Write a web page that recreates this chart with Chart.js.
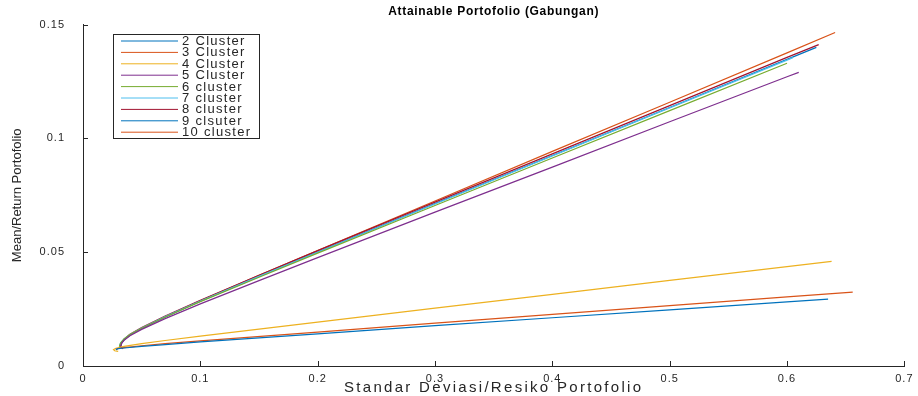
<!DOCTYPE html>
<html>
<head>
<meta charset="utf-8">
<script src="https://cdn.jsdelivr.net/npm/chart.js@4/dist/chart.umd.min.js"></script>
<style>
    html, body { margin: 0; padding: 0; background: #fff; }
    #wrap { width: 918px; height: 396px; }
</style>
</head>
<body>
<div id="wrap"><canvas id="frontierChart"></canvas></div>
<script>
// Data: standard deviation (x) and mean return (y)
const labels = ['2 Cluster', '3 Cluster', '4 Cluster', '5 Cluster', '6 cluster', '7 cluster', '8 cluster', '9 clsuter', '10 cluster'];
const colors = ['#0072BD', '#D95319', '#EDB120', '#7E2F8E', '#77AC30', '#4DBEEE', '#A2142F', '#0072BD', '#D95319'];

const sd2 = [0.028, 0.03, 0.035, 0.05, 0.07, 0.1, 0.2, 0.3, 0.4, 0.5, 0.6, 0.635];
const mu2 = [0.0072, 0.0076, 0.0079, 0.0086, 0.0094, 0.0106, 0.0141, 0.0177, 0.0212, 0.0247, 0.0282, 0.0294];

const sd3 = [0.028, 0.03, 0.035, 0.05, 0.07, 0.1, 0.2, 0.3, 0.4, 0.5, 0.6, 0.656];
const mu3 = [0.0073, 0.0077, 0.0081, 0.0089, 0.0098, 0.0110, 0.0149, 0.0188, 0.0227, 0.0265, 0.0304, 0.0325];

const sd4 = [0.03, 0.027, 0.026, 0.028, 0.035, 0.05, 0.07, 0.1, 0.2, 0.3, 0.4, 0.5, 0.6, 0.638];
const mu4 = [0.0064, 0.0067, 0.0072, 0.0078, 0.0086, 0.0098, 0.0112, 0.0131, 0.0193, 0.0254, 0.0315, 0.0376, 0.0437, 0.046];

const sd5 = [0.032, 0.033, 0.035, 0.04, 0.05, 0.07, 0.1, 0.15, 0.2, 0.3, 0.4, 0.5, 0.6, 0.61];
const mu5 = [0.0085, 0.0101, 0.0113, 0.0133, 0.0161, 0.0208, 0.0273, 0.0375, 0.0476, 0.0676, 0.0874, 0.1073, 0.1271, 0.129];

const sd6 = [0.031, 0.032, 0.035, 0.04, 0.05, 0.07, 0.1, 0.15, 0.2, 0.3, 0.4, 0.5, 0.6];
const mu6 = [0.0085, 0.0101, 0.0119, 0.0138, 0.0166, 0.0215, 0.0283, 0.0390, 0.0496, 0.0705, 0.0914, 0.1122, 0.133];

const sd7 = [0.031, 0.032, 0.035, 0.04, 0.05, 0.07, 0.1, 0.15, 0.2, 0.3, 0.4, 0.5, 0.6, 0.605];
const mu7 = [0.0085, 0.0102, 0.0119, 0.0138, 0.0167, 0.0217, 0.0285, 0.0394, 0.0500, 0.0712, 0.0923, 0.1134, 0.1344, 0.1355];

const sd8 = [0.034, 0.032, 0.033, 0.035, 0.04, 0.05, 0.07, 0.1, 0.15, 0.2, 0.3, 0.4, 0.5, 0.6, 0.627];
const mu8 = [0.0075, 0.0085, 0.0102, 0.0118, 0.0139, 0.0169, 0.0219, 0.0289, 0.0399, 0.0507, 0.0720, 0.0932, 0.1144, 0.1356, 0.1412];

const sd9 = [0.032, 0.033, 0.035, 0.04, 0.05, 0.07, 0.1, 0.15, 0.2, 0.3, 0.4, 0.5, 0.6, 0.625];
const mu9 = [0.0085, 0.0102, 0.0115, 0.0136, 0.0166, 0.0216, 0.0285, 0.0394, 0.0501, 0.0714, 0.0925, 0.1136, 0.1347, 0.140];

const sd10 = [0.031, 0.032, 0.035, 0.04, 0.05, 0.07, 0.1, 0.15, 0.2, 0.3, 0.4, 0.5, 0.6, 0.641];
const mu10 = [0.008, 0.0097, 0.0115, 0.0135, 0.0165, 0.0216, 0.0286, 0.0398, 0.0507, 0.0725, 0.0943, 0.1159, 0.1376, 0.1465];

const xTicks = [0, 0.1, 0.2, 0.3, 0.4, 0.5, 0.6, 0.7];
const yTicks = [0, 0.05, 0.1, 0.15];

const series = [[sd2, mu2], [sd3, mu3], [sd4, mu4], [sd5, mu5], [sd6, mu6], [sd7, mu7], [sd8, mu8], [sd9, mu9], [sd10, mu10]];

const AXIS = '#262626';
const FONT = '"Liberation Sans", Arial, Helvetica, sans-serif';

// the picture is a bit stretched sideways, so text gets some letter spacing
const spacing = {
    id: 'spacing',
    beforeDraw(chart) { chart.ctx.letterSpacing = '1px'; },
    afterDraw(chart) { chart.ctx.letterSpacing = '0px'; }
};

// ticks pointing inward, like matlab
const innerTicks = {
    id: 'innerTicks',
    afterDraw(chart) {
        const { ctx, scales: { x, y } } = chart;
        ctx.save();
        ctx.strokeStyle = AXIS;
        ctx.lineWidth = 1;
        ctx.beginPath();
        xTicks.forEach(v => {
            const px = Math.round(x.getPixelForValue(v)) + 0.5;
            ctx.moveTo(px, y.bottom);
            ctx.lineTo(px, y.bottom - 5);
        });
        yTicks.forEach(v => {
            const py = Math.round(y.getPixelForValue(v)) + 0.5;
            ctx.moveTo(x.left, py);
            ctx.lineTo(x.left + 5, py);
        });
        ctx.stroke();
        ctx.restore();
    }
};

// titles + boxed legend in the upper-left corner
const matlabLegend = {
    id: 'matlabLegend',
    afterDraw(chart) {
        const { ctx, chartArea } = chart;
        const cx = (chartArea.left + chartArea.right) / 2;
        ctx.save();
        ctx.textAlign = 'center';
        ctx.textBaseline = 'middle';

        ctx.fillStyle = '#000';
        ctx.font = 'bold 12px ' + FONT;
        ctx.letterSpacing = '0.7px';
        ctx.fillText('Attainable Portofolio (Gabungan)', cx, 12);

        ctx.fillStyle = AXIS;
        ctx.font = '15px ' + FONT;
        ctx.letterSpacing = '2.3px';
        ctx.fillText('Standar Deviasi/Resiko Portofolio', cx, 388);

        ctx.save();
        ctx.translate(17, (chartArea.top + chartArea.bottom) / 2);
        ctx.rotate(-Math.PI / 2);
        ctx.font = '13px ' + FONT;
        ctx.letterSpacing = '0px';
        ctx.fillText('Mean/Return Portofolio', 0, 0);
        ctx.restore();

        const bx = 113.5, by = 34.5, bw = 146, bh = 104;
        ctx.fillStyle = '#fff';
        ctx.fillRect(bx, by, bw, bh);
        ctx.strokeStyle = AXIS;
        ctx.lineWidth = 1;
        ctx.strokeRect(bx, by, bw, bh);

        ctx.font = '13px ' + FONT;
        ctx.letterSpacing = '1.3px';
        ctx.textAlign = 'left';
        labels.forEach((lab, i) => {
            const cy = 41 + i * 11.4;
            ctx.strokeStyle = colors[i];
            ctx.beginPath();
            ctx.moveTo(121, cy);
            ctx.lineTo(178, cy);
            ctx.stroke();
            ctx.fillStyle = AXIS;
            ctx.fillText(lab, 182, cy + 0.5);
        });
        ctx.restore();
    }
};

new Chart(document.getElementById('frontierChart'), {
    type: 'scatter',
    data: {
        datasets: series.map((s, i) => ({
            label: labels[i],
            data: s[0].map((v, j) => ({ x: v, y: s[1][j] })),
            showLine: true,
            borderColor: colors[i],
            borderWidth: 1.2,
            pointRadius: 0,
            tension: 0
        }))
    },
    options: {
        responsive: true,
        maintainAspectRatio: false,
        animation: false,
        layout: { padding: { top: 24, right: 12, left: 0, bottom: 0 } },
        plugins: {
            legend: { display: false },
            title: { display: false },
            tooltip: { enabled: false }
        },
        scales: {
            x: {
                type: 'linear',
                min: 0,
                max: 0.7,
                afterFit(scale) { scale.height = 30; },
                afterBuildTicks(scale) { scale.ticks = xTicks.map(v => ({ value: v })); },
                ticks: {
                    color: AXIS,
                    padding: 6,
                    maxRotation: 0,
                    font: { family: FONT, size: 11 },
                    callback: v => String(+v.toFixed(2))
                },
                grid: { display: false, drawTicks: false },
                border: { display: true, color: AXIS, width: 1 }
            },
            y: {
                type: 'linear',
                min: 0,
                max: 0.15,
                afterFit(scale) { scale.width = 83; },
                afterBuildTicks(scale) { scale.ticks = yTicks.map(v => ({ value: v })); },
                ticks: {
                    color: AXIS,
                    padding: 18,
                    font: { family: FONT, size: 11 },
                    callback: v => String(+v.toFixed(2))
                },
                grid: { display: false, drawTicks: false },
                border: { display: true, color: AXIS, width: 1 }
            }
        }
    },
    plugins: [spacing, innerTicks, matlabLegend]
});
</script>
</body>
</html>
